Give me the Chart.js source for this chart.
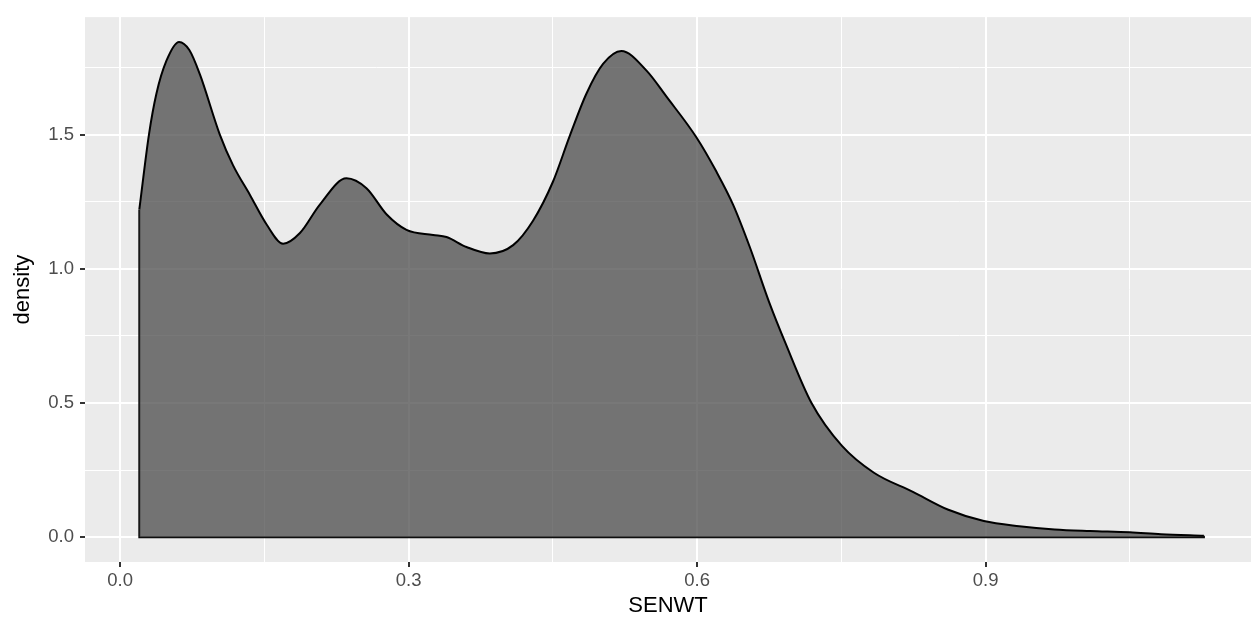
<!DOCTYPE html>
<html lang="en">
<head>
    <meta charset="UTF-8">
    <title>SENWT density</title>
    <script src="https://cdn.jsdelivr.net/npm/chart.js"></script>
    <style>
        body {
            margin: 0;
            background: white;
        }
        .chart-box {
            width: 1257px;
            height: 622px;
        }
    </style>
</head>
<body>
    <div class="chart-box">
        <canvas id="densityChart"></canvas>
    </div>

    <script>
        // density curve
        const senwt = [0.02, 0.030, 0.0378, 0.0482, 0.0613, 0.072, 0.0829, 0.1037, 0.1175, 0.1349, 0.1522,
            0.1695, 0.187, 0.2077, 0.2354, 0.2562, 0.277, 0.2978, 0.3255, 0.3394, 0.3602,
            0.3844, 0.4087, 0.4294, 0.4502, 0.4676, 0.485, 0.5022, 0.5213, 0.5474, 0.5682,
            0.5994, 0.6202, 0.6374, 0.6548, 0.675, 0.6918, 0.719, 0.7507, 0.7839,
            0.8244, 0.8613, 0.8982, 0.935, 0.9718, 1.0087, 1.05, 1.0824, 1.127];
        const density = [1.221, 1.50, 1.653, 1.775, 1.845, 1.815, 1.725, 1.50, 1.385, 1.276, 1.166,
            1.093, 1.133, 1.239, 1.337, 1.300, 1.203, 1.145, 1.126, 1.118, 1.081,
            1.057, 1.088, 1.179, 1.325, 1.495, 1.653, 1.763, 1.811, 1.738, 1.641,
            1.489, 1.361, 1.239, 1.081, 0.875, 0.724, 0.50, 0.340, 0.240,
            0.169, 0.102, 0.060, 0.041, 0.029, 0.023, 0.018, 0.011, 0.005];

        const xMajor = [0, 0.3, 0.6, 0.9];
        const xMinor = [0.15, 0.45, 0.75, 1.05];
        const yMajor = [0, 0.5, 1.0, 1.5];
        const yMinor = [0.25, 0.75, 1.25, 1.75];

        const curve = senwt.map((x, i) => ({ x: x, y: density[i] }));
        const first = curve[0];
        const last = curve[curve.length - 1];
        // left edge and baseline of the density polygon
        const outline = [first, { x: first.x, y: 0 }, { x: last.x, y: 0 }, last];

        const isMajor = (list, v) => list.some(m => Math.abs(m - v) < 1e-9);

        function setTicks(major, minor) {
            return function (scale) {
                scale.ticks = major.concat(minor).sort((a, b) => a - b).map(v => ({ value: v }));
            };
        }

        // grey panel behind the grid
        const panelBg = {
            id: 'panelBg',
            beforeDraw(chart) {
                const a = chart.chartArea;
                chart.ctx.save();
                chart.ctx.fillStyle = '#EBEBEB';
                chart.ctx.fillRect(a.left, a.top, a.right - a.left, a.bottom - a.top);
                chart.ctx.restore();
            }
        };

        const font = "'Liberation Sans', Arial, sans-serif";

        function axis(major, minor, min, max, titleText, titlePad, tickPad) {
            return {
                type: 'linear',
                min: min,
                max: max,
                afterBuildTicks: setTicks(major, minor),
                border: { display: false },
                grid: {
                    color: '#FFFFFF',
                    lineWidth: ctx => isMajor(major, ctx.tick.value) ? 2 : 1,
                    tickColor: ctx => isMajor(major, ctx.tick.value) ? '#333333' : 'rgba(0,0,0,0)',
                    tickLength: 5,
                    tickWidth: 2
                },
                ticks: {
                    color: '#4D4D4D',
                    font: { family: font, size: 18.5 },
                    padding: tickPad,
                    maxRotation: 0,
                    autoSkip: false,
                    callback: v => isMajor(major, v) ? v.toFixed(1) : ''
                },
                title: {
                    display: true,
                    text: titleText,
                    color: '#000000',
                    font: { family: font, size: 22 },
                    padding: titlePad
                }
            };
        }

        const xAxis = axis(xMajor, xMinor, -0.0365, 1.176, 'SENWT', { top: 0, bottom: 3 }, 3);
        xAxis.afterFit = scale => { scale.height = 60; };
        const yAxis = axis(yMajor, yMinor, -0.0925, 1.9375, 'density', { top: 10, bottom: 0 }, 6);
        yAxis.afterFit = scale => { scale.width = 85; };

        new Chart(document.getElementById('densityChart'), {
            type: 'line',
            data: {
                datasets: [{
                    data: curve,
                    borderColor: '#000000',
                    borderWidth: 2,
                    backgroundColor: 'rgba(75, 75, 75, 0.75)',
                    fill: 'origin',
                    cubicInterpolationMode: 'monotone',
                    pointRadius: 0
                }, {
                    data: outline,
                    borderColor: '#000000',
                    borderWidth: 2,
                    fill: false,
                    tension: 0,
                    pointRadius: 0
                }]
            },
            options: {
                responsive: true,
                maintainAspectRatio: false,
                animation: false,
                layout: { padding: { top: 6, right: 6, left: 0, bottom: 0 } },
                plugins: {
                    legend: { display: false },
                    tooltip: { enabled: false }
                },
                scales: { x: xAxis, y: yAxis }
            },
            plugins: [panelBg]
        });
    </script>
</body>
</html>
